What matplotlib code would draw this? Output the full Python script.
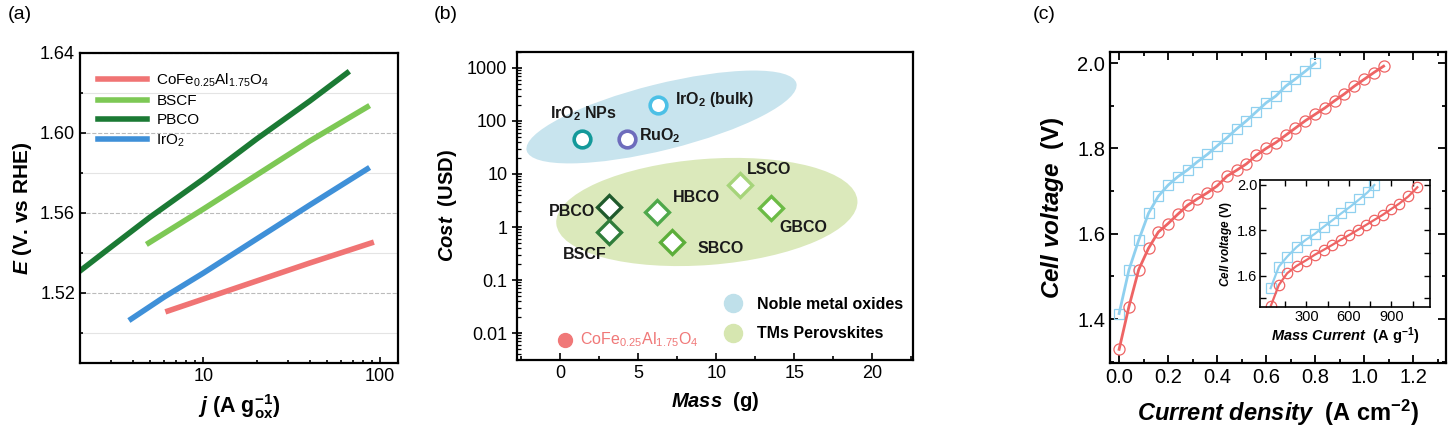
import numpy as np
import matplotlib
matplotlib.use("Agg")
import matplotlib.pyplot as plt
import matplotlib.transforms as mtransforms
from matplotlib.patches import Ellipse
from matplotlib.lines import Line2D
from matplotlib.ticker import FixedLocator, MultipleLocator, LogLocator, NullFormatter, FormatStrFormatter

plt.rcParams['font.family'] = ['Liberation Sans', 'DejaVu Sans']
plt.rcParams['mathtext.fontset'] = 'custom'
plt.rcParams['mathtext.rm'] = 'Liberation Sans'
plt.rcParams['mathtext.it'] = 'Liberation Sans:italic'
plt.rcParams['mathtext.bf'] = 'Liberation Sans:bold'
plt.rcParams['mathtext.bfit'] = 'Liberation Sans:italic:bold'
plt.rcParams['mathtext.default'] = 'regular'

# ---- (a) Tafel-like lines ----
pbco_j = [2.0, 3.0, 5.0, 10, 20, 40, 65]
pbco_E = [1.531, 1.543, 1.558, 1.577, 1.597, 1.616, 1.630]
bscf_j = [4.9, 7, 10, 20, 40, 84.5]
bscf_E = [1.545, 1.5535, 1.562, 1.579, 1.596, 1.613]
iro2_j = [3.9, 6, 10, 20, 40, 84.5]
iro2_E = [1.507, 1.518, 1.530, 1.547, 1.564, 1.582]
cofe_j = [6.3, 10, 20, 40, 89]
cofe_E = [1.511, 1.517, 1.526, 1.535, 1.545]

# ---- (b) cost vs mass ----
noble_names = ['IrO$_2$ NPs', 'RuO$_2$', 'IrO$_2$ (bulk)']
noble_mass = [1.4, 4.3, 6.3]
noble_cost = [45, 46, 200]
noble_colors = ['#14999a', '#6e6cbc', '#4cc0e6']
perov_names = ['PBCO', 'BSCF', 'HBCO', 'SBCO', 'LSCO', 'GBCO']
perov_mass = [3.15, 3.15, 6.2, 7.2, 11.5, 13.5]
perov_cost = [2.4, 0.8, 1.9, 0.52, 6.2, 2.28]
perov_colors = ['#1f5a2c', '#2f7d3a', '#4ea84a', '#5cae3a', '#a6d47a', '#6cbb45']
cofe_mass = [0.3]
cofe_cost = [0.0075]

# ---- (c) cell voltage ----
red_j = [0.00, 0.04, 0.08, 0.12, 0.16, 0.20, 0.24, 0.28, 0.32, 0.36, 0.40, 0.44, 0.48, 0.52,
         0.56, 0.60, 0.64, 0.68, 0.72, 0.76, 0.80, 0.84, 0.88, 0.92, 0.96, 1.00, 1.04, 1.08]
red_V = [1.329, 1.429, 1.516, 1.566, 1.604, 1.624, 1.646, 1.667, 1.682, 1.696, 1.712, 1.735, 1.749, 1.764,
         1.784, 1.800, 1.814, 1.831, 1.848, 1.865, 1.880, 1.895, 1.912, 1.928, 1.946, 1.962, 1.978, 1.993]
blue_j = [0.00, 0.04, 0.08, 0.12, 0.16, 0.20, 0.24, 0.28, 0.32, 0.36, 0.40,
          0.44, 0.48, 0.52, 0.56, 0.60, 0.64, 0.68, 0.72, 0.76, 0.80]
blue_V = [1.413, 1.515, 1.585, 1.648, 1.688, 1.714, 1.734, 1.750, 1.769, 1.786, 1.806,
          1.825, 1.846, 1.865, 1.886, 1.907, 1.923, 1.946, 1.963, 1.981, 2.000]
red_m = [49, 105, 164, 230, 295, 358, 422, 483, 541, 604, 663, 722, 780, 838, 897, 956, 1021, 1084]
red_mV = [1.468, 1.559, 1.611, 1.643, 1.667, 1.692, 1.714, 1.736, 1.758, 1.780, 1.802, 1.824,
          1.846, 1.868, 1.893, 1.918, 1.950, 1.990]
blue_m = [47, 105, 164, 230, 295, 358, 422, 487, 546, 609, 674, 733, 780]
blue_mV = [1.545, 1.640, 1.684, 1.726, 1.758, 1.784, 1.816, 1.846, 1.875, 1.904, 1.937, 1.968, 2.000]

fig = plt.figure(figsize=(14.56, 4.33), dpi=100)
axA = fig.add_axes([0.0549, 0.1617, 0.2184, 0.716])
axB = fig.add_axes([0.3551, 0.1686, 0.272, 0.7113])
axC = fig.add_axes([0.7624, 0.1617, 0.2308, 0.718])

for ax in (axA, axB, axC):
    for s in ax.spines.values():
        s.set_linewidth(1.6)

# ---------- (a) ----------
axA.plot(cofe_j, cofe_E, color='#f07474', lw=4, label='CoFe$_{0.25}$Al$_{1.75}$O$_4$')
axA.plot(bscf_j, bscf_E, color='#7dc855', lw=4, label='BSCF')
axA.plot(pbco_j, pbco_E, color='#1b7a34', lw=4, label='PBCO')
axA.plot(iro2_j, iro2_E, color='#3f90d8', lw=4, label='IrO$_2$')
axA.set_xscale('log')
axA.set_xlim(2.0, 126)
axA.set_ylim(1.485, 1.64)
axA.yaxis.set_major_locator(FixedLocator([1.52, 1.56, 1.60, 1.64]))
axA.yaxis.set_minor_locator(FixedLocator([1.50, 1.54, 1.58, 1.62]))
axA.yaxis.set_major_formatter(FormatStrFormatter('%.2f'))
axA.xaxis.set_major_locator(FixedLocator([10, 100]))
axA.xaxis.set_major_formatter(FormatStrFormatter('%d'))
axA.xaxis.set_minor_locator(LogLocator(base=10, subs=np.arange(2, 10)))
axA.xaxis.set_minor_formatter(NullFormatter())
axA.grid(axis='y', which='major', ls='--', color='#bbbbbb', lw=0.8)
axA.grid(axis='y', which='minor', ls='-', color='#e4e4e4', lw=0.8)
axA.tick_params(which='both', direction='in', labelsize=13, width=1.2)
axA.tick_params(which='major', length=4)
axA.tick_params(which='minor', length=2.5)
axA.set_ylabel(r'$\mathbfit{E}$ (V. vs RHE)', fontsize=15, fontweight='bold', labelpad=4)
axA.set_xlabel(r'$\mathbfit{j}$ (A g$_{ox}^{-1}$)', fontsize=15.5, fontweight='bold', labelpad=5)
axA.legend(loc='upper left', fontsize=11, frameon=False, handlelength=3.2,
           handletextpad=0.6, labelspacing=0.35, borderaxespad=0.8)

# ---------- (b) ----------
def add_ellipse(ax, cx, cy, a_px, b_px, angle, color):
    tr = fig.dpi_scale_trans + mtransforms.ScaledTranslation(cx, cy, ax.transData)
    e = Ellipse((0, 0), 2 * a_px / 100, 2 * b_px / 100, angle=angle,
                transform=tr, facecolor=color, edgecolor='none', zorder=0)
    ax.add_patch(e)

axB.set_yscale('log')
axB.set_xlim(-2.75, 22.6)
axB.set_ylim(0.0031, 2000)
add_ellipse(axB, 6.5, 119, 139, 33, 14, '#c8e4ee')
add_ellipse(axB, 9.4, 1.92, 151, 53, 4.4, '#dbe9bb')

for m, c, col in zip(noble_mass, noble_cost, noble_colors):
    axB.plot(m, c, 'o', ms=12, mfc='white', mec=col, mew=2.6, zorder=3)
for m, c, col in zip(perov_mass, perov_cost, perov_colors):
    axB.plot(m, c, 'D', ms=12, mfc='white', mec=col, mew=2.4, zorder=3)
axB.plot(cofe_mass, cofe_cost, 'o', ms=10, color='#f07878', zorder=3)

lab_kw = dict(fontsize=11.5, fontweight='bold', color='#1a1a1a', zorder=4)
axB.text(1.5, 140, noble_names[0], ha='center', va='center', **lab_kw)
axB.text(5.05, 52, noble_names[1], ha='left', va='center', **lab_kw)
axB.text(7.35, 249, noble_names[2], ha='left', va='center', **lab_kw)
axB.text(0.77, 2.0, perov_names[0], ha='center', va='center', **lab_kw)
axB.text(1.6, 0.3, perov_names[1], ha='center', va='center', **lab_kw)
axB.text(7.2, 3.68, perov_names[2], ha='left', va='center', **lab_kw)
axB.text(8.8, 0.40, perov_names[3], ha='left', va='center', **lab_kw)
axB.text(11.95, 11.9, perov_names[4], ha='left', va='center', **lab_kw)
axB.text(14.05, 1.0, perov_names[5], ha='left', va='center', **lab_kw)
axB.text(1.28, 0.0075, 'CoFe$_{0.25}$Al$_{1.75}$O$_4$', ha='left', va='center',
         fontsize=11.5, color='#f07878', zorder=4)

handles = [Line2D([], [], ls='none', marker='o', ms=13, color='#bfe0ea'),
           Line2D([], [], ls='none', marker='o', ms=13, color='#d6e6b0')]
axB.legend(handles, ['Noble metal oxides', 'TMs Perovskites'], loc='lower right',
           bbox_to_anchor=(1.0, 0.03), frameon=False, prop={'weight': 'bold', 'size': 11.5},
           handletextpad=0.5, labelspacing=0.9, borderaxespad=0.2)

axB.set_yticks([0.01, 0.1, 1, 10, 100, 1000])
axB.set_yticklabels(['0.01', '0.1', '1', '10', '100', '1000'])
axB.yaxis.set_minor_locator(LogLocator(base=10, subs=np.arange(2, 10)))
axB.yaxis.set_minor_formatter(NullFormatter())
axB.xaxis.set_major_locator(MultipleLocator(5))
axB.xaxis.set_minor_locator(MultipleLocator(2.5))
axB.tick_params(axis='x', which='both', direction='in', labelsize=13, width=1.2)
axB.tick_params(axis='x', which='major', length=5)
axB.tick_params(axis='x', which='minor', length=3)
axB.tick_params(axis='y', which='major', direction='inout', length=7, width=1.2, labelsize=13)
axB.tick_params(axis='y', which='minor', direction='in', length=3, width=0.9)
axB.set_ylabel(r'$\mathbfit{Cost}$  (USD)', fontsize=14.5, fontweight='bold', labelpad=6)
axB.set_xlabel(r'$\mathbfit{Mass}$  (g)', fontsize=14.5, fontweight='bold', labelpad=6)

# ---------- (c) ----------
red_c = '#ee6464'
blue_c = '#8fd0ef'
axC.plot(blue_j, blue_V, color=blue_c, lw=2, marker='s', ms=7, mfc='none', mec=blue_c, mew=0.9)
axC.plot(red_j, red_V, color=red_c, lw=2, marker='o', ms=8, mfc='none', mec=red_c, mew=0.9)
axC.set_xlim(-0.037, 1.335)
axC.set_ylim(1.297, 2.026)
axC.xaxis.set_major_locator(MultipleLocator(0.2))
axC.xaxis.set_minor_locator(MultipleLocator(0.1))
axC.yaxis.set_major_locator(MultipleLocator(0.2))
axC.yaxis.set_minor_locator(MultipleLocator(0.1))
axC.xaxis.set_major_formatter(FormatStrFormatter('%.1f'))
axC.yaxis.set_major_formatter(FormatStrFormatter('%.1f'))
axC.tick_params(which='both', direction='in', top=True, right=True, labelsize=14.5, width=1.3)
axC.tick_params(which='major', length=6)
axC.tick_params(which='minor', length=3)
axC.set_ylabel(r'$\mathbfit{Cell\ voltage}$  (V)', fontsize=17.5, fontweight='bold', labelpad=8)
axC.set_xlabel(r'$\mathbfit{Current\ density}$  (A cm$^{-2}$)', fontsize=17, fontweight='bold', labelpad=8)

axI = fig.add_axes([0.8654, 0.291, 0.1168, 0.2933])
for s in axI.spines.values():
    s.set_linewidth(1.2)
axI.plot(blue_m, blue_mV, color=blue_c, lw=1.6, marker='s', ms=7, mfc='none', mec=blue_c, mew=0.9)
axI.plot(red_m, red_mV, color=red_c, lw=1.6, marker='o', ms=7.5, mfc='none', mec=red_c, mew=0.9)
axI.set_xlim(-28, 1174)
axI.set_ylim(1.462, 2.022)
axI.xaxis.set_major_locator(FixedLocator([300, 600, 900]))
axI.xaxis.set_minor_locator(FixedLocator([150, 450, 750, 1050]))
axI.yaxis.set_major_locator(FixedLocator([1.6, 1.8, 2.0]))
axI.yaxis.set_minor_locator(FixedLocator([1.5, 1.7, 1.9]))
axI.yaxis.set_major_formatter(FormatStrFormatter('%.1f'))
axI.tick_params(which='both', direction='in', top=True, right=True, labelsize=10.5, width=1, pad=2)
axI.tick_params(which='major', length=4)
axI.tick_params(which='minor', length=4)
axI.set_ylabel(r'$\mathbfit{Cell\ voltage}$ (V)', fontsize=8.5, fontweight='bold', labelpad=2)
axI.set_xlabel(r'$\mathbfit{Mass\ Current}$  (A g$^{-1}$)', fontsize=10.5, fontweight='bold', labelpad=1)

fig.text(0.005, 0.955, '(a)', fontsize=14)
fig.text(0.298, 0.955, '(b)', fontsize=14)
fig.text(0.709, 0.955, '(c)', fontsize=14)

fig.savefig('out.png', dpi=100)
